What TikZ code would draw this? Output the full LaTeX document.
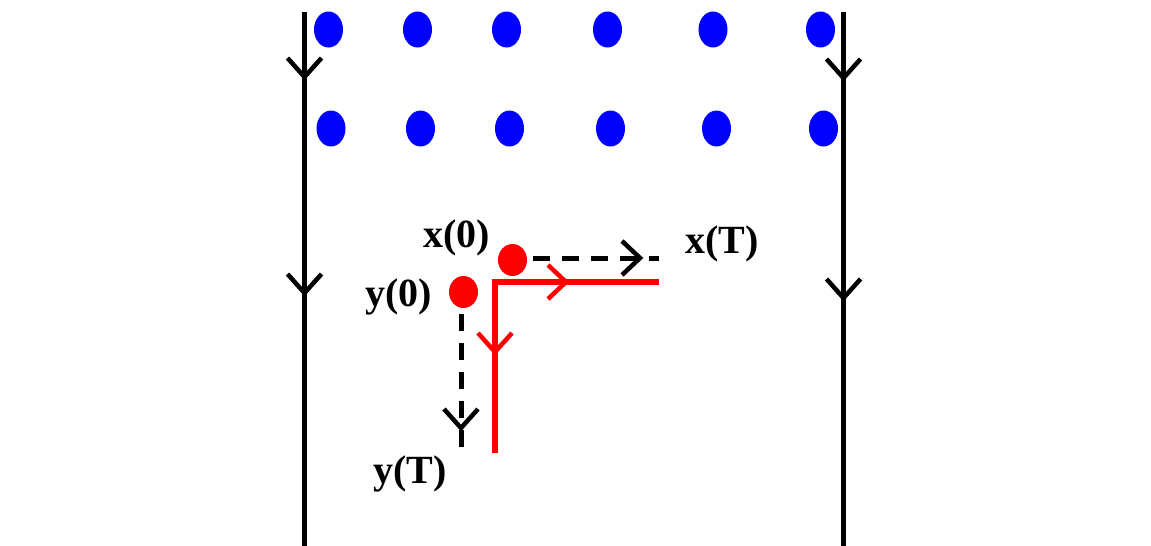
\documentclass[tikz,border=0pt]{standalone}
\usepackage{fontspec}
\setmainfont{Liberation Serif}
\usetikzlibrary{shapes.geometric}
\begin{document}
\begin{tikzpicture}[x=1pt,y=-1pt,
  wall/.style={line width=5pt, line cap=butt},
  chev/.style={line width=4.5pt, line join=miter, line cap=butt},
  dashline/.style={line width=5pt, line cap=butt, dash pattern=on 17pt off 12pt},
  redline/.style={red, line width=5.5pt, line join=miter, line cap=butt},
  bdot/.style={ellipse, fill=blue, minimum width=29pt, minimum height=36pt, inner sep=0pt, outer sep=0pt},
  rdot/.style={ellipse, fill=red, minimum width=29pt, minimum height=32pt, inner sep=0pt, outer sep=0pt},
  lbl/.style={anchor=base west, inner sep=0pt, font=\fontsize{40}{44}\selectfont\bfseries},
  downchev/.pic={\draw[chev] (-17,-19) -- (0,0) -- (17,-19);},
  rightchev/.pic={\draw[chev] (-18,-17) -- (0,0) -- (-18,17);}
]
\useasboundingbox (0,0) rectangle (1151,546);
\fill[white] (0,0) rectangle (1151,546);

% walls
\coordinate (lt) at (304.5,12);
\coordinate (lb) at (304.5,546);
\coordinate (rt) at (843.5,12);
\coordinate (rb) at (843.5,546);
\draw[wall] (lt) -- (lb);
\draw[wall] (rt) -- (rb);
\pic at (304.5,77) {downchev};
\pic at (304.5,293) {downchev};
\pic at (843.5,78) {downchev};
\pic at (843.5,298) {downchev};

% blue dots
\node[bdot] (b11) at (328.5,29.5) {};
\node[bdot] (b12) at (417.5,29.5) {};
\node[bdot] (b13) at (506.5,29.5) {};
\node[bdot] (b14) at (607.5,29.5) {};
\node[bdot] (b15) at (713,29.5) {};
\node[bdot] (b16) at (820.5,29.5) {};
\node[bdot] (b21) at (331,128.5) {};
\node[bdot] (b22) at (420.5,128.5) {};
\node[bdot] (b23) at (509.5,128.5) {};
\node[bdot] (b24) at (610.5,128.5) {};
\node[bdot] (b25) at (716.5,128.5) {};
\node[bdot] (b26) at (823.5,128.5) {};

% red dots
\node[rdot] (x0) at (512.5,260) {};
\node[rdot] (y0) at (463.5,292) {};

% dashed paths
\coordinate (xs) at (533,258);
\coordinate (xe) at (659,258);
\coordinate (ys) at (461,314);
\coordinate (ye) at (461,453);
\draw[dashline] (xs) -- (xe);
\draw[dashline] (ys) -- (ye);
\pic at (640,258) {rightchev};
\pic at (461,428) {downchev};

% red path
\coordinate (rc) at (495,282);
\coordinate (rh) at (659,282);
\coordinate (rv) at (495,453);
\draw[redline] (rv) -- (rc) -- (rh);
\pic[red] at (566,282) {rightchev};
\pic[red] at (495,352) {downchev};

% labels
\node[lbl] (lx0) at (423,247) {x(0)};
\node[lbl] (lxT) at (685,253) {x(T)};
\node[lbl] (ly0) at (365,306) {y(0)};
\node[lbl] (lyT) at (373,483) {y(T)};
\end{tikzpicture}
\end{document}
